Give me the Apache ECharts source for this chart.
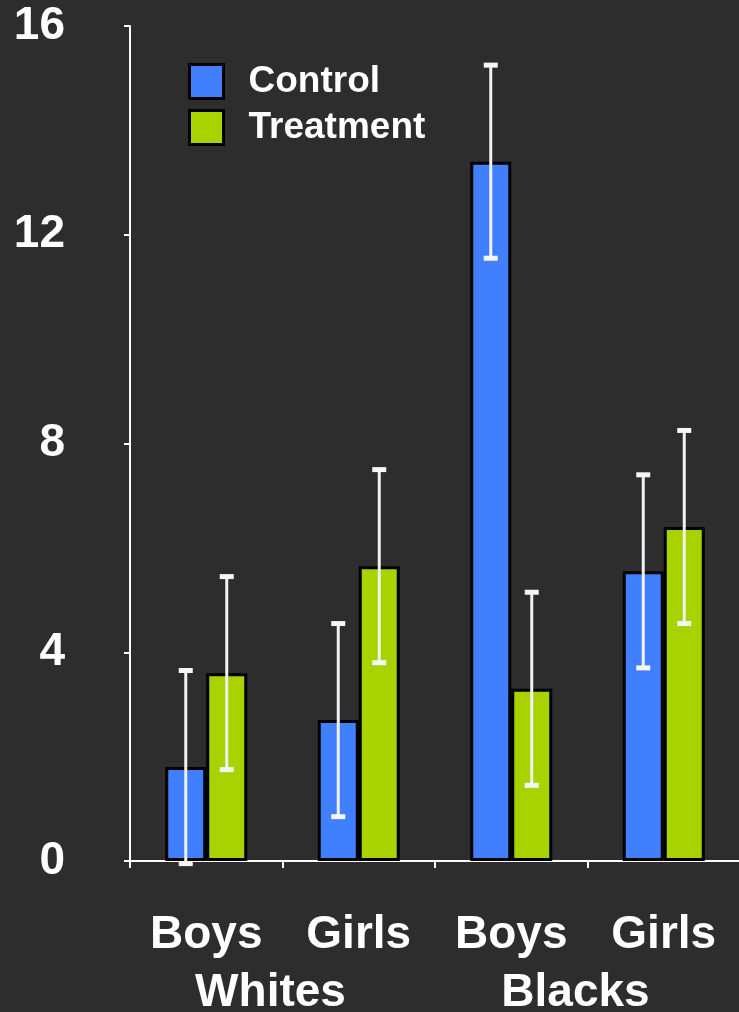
<!DOCTYPE html>
<html>
<head>
<meta charset="utf-8">
<style>
  html, body { margin: 0; padding: 0; background: #2d2d2d; }
  #chart { width: 739px; height: 1012px; }
</style>
<script src="https://cdn.jsdelivr.net/npm/echarts@6/dist/echarts.min.js"></script>
</head>
<body>
<div id="chart"></div>
<script>
// Subgroups along the x axis and the two populations they belong to
const categories = ['Boys', 'Girls', 'Boys', 'Girls'];
const groups = ['Whites', 'Blacks'];

// Bar heights per subgroup
const controlValues = [1.8, 2.7, 13.4, 5.55];
const treatmentValues = [3.6, 5.65, 3.3, 6.4];

// Half-length of each error bar
const controlErrors = [1.85, 1.85, 1.85, 1.85];
const treatmentErrors = [1.85, 1.85, 1.85, 1.85];

// Y axis ticks
const yTicks = [0, 4, 8, 12, 16];

const FONT = "'Liberation Sans', Arial, Helvetica, sans-serif";
const BAR_WIDTH = 41;
const BAR_GAP = 0;
const CTRL_COLOR = '#4080FF';
const TREAT_COLOR = '#A8D200';

function errorRows(values, errors) {
  return values.map((v, i) => [i, v - errors[i], v + errors[i]]);
}

function errorRenderer(side) {
  return function (params, api) {
    const idx = api.value(0);
    const lo = api.coord([idx, api.value(1)]);
    const hi = api.coord([idx, api.value(2)]);
    const x = lo[0] + side * (BAR_WIDTH / 2 + BAR_GAP / 2);
    const capW = 14, capH = 5;
    const style = { fill: '#f6f6f6' };
    return {
      type: 'group',
      children: [
        { type: 'line', shape: { x1: x, y1: lo[1], x2: x, y2: hi[1] },
          style: { stroke: '#f2f2f2', lineWidth: 3 } },
        { type: 'rect', shape: { x: x - capW / 2, y: hi[1] - capH / 2, width: capW, height: capH }, style },
        { type: 'rect', shape: { x: x - capW / 2, y: lo[1] - capH / 2, width: capW, height: capH }, style }
      ]
    };
  };
}

const chart = echarts.init(document.getElementById('chart'), null, { renderer: 'canvas' });

chart.setOption({
  backgroundColor: '#2d2d2d',
  animation: false,
  grid: { left: 130, right: -1, top: 26, bottom: 151, containLabel: false, outerBoundsMode: 'none' },
  legend: {
    orient: 'vertical',
    left: 188,
    top: 63,
    padding: 0,
    itemWidth: 34,
    itemHeight: 34,
    itemGap: 9,
    icon: 'rect',
    data: ['Control', 'Treatment'],
    itemStyle: { borderColor: '#000', borderWidth: 3 },
    textStyle: { color: '#fff', fontFamily: FONT, fontWeight: 'bold', fontSize: 37, padding: [0, 0, 0, 20] }
  },
  xAxis: [
    {
      type: 'category',
      data: categories,
      axisLine: { lineStyle: { color: '#fff', width: 2 } },
      axisTick: { show: true, length: 7, alignWithLabel: false, lineStyle: { color: '#fff', width: 2 } },
      axisLabel: { color: '#fff', fontFamily: FONT, fontWeight: 'bold', fontSize: 46, margin: 51 },
      splitLine: { show: false }
    },
    {
      type: 'category',
      data: groups,
      position: 'bottom',
      axisLine: { show: false },
      axisTick: { show: false },
      axisLabel: { color: '#fff', fontFamily: FONT, fontWeight: 'bold', fontSize: 46, margin: 109, padding: [0, 24, 0, 0] },
      splitLine: { show: false }
    }
  ],
  yAxis: {
    type: 'value',
    min: yTicks[0],
    max: yTicks[yTicks.length - 1],
    interval: yTicks[1] - yTicks[0],
    axisLine: { show: true, lineStyle: { color: '#fff', width: 2 } },
    axisTick: { show: true, length: 6, lineStyle: { color: '#fff', width: 2 } },
    axisLabel: { color: '#fff', fontFamily: FONT, fontWeight: 'bold', fontSize: 46, margin: 65 },
    splitLine: { show: false }
  },
  series: [
    {
      name: 'Control',
      type: 'bar',
      data: controlValues,
      barWidth: BAR_WIDTH,
      barGap: (BAR_GAP / BAR_WIDTH * 100) + '%',
      itemStyle: { color: CTRL_COLOR, borderColor: '#000', borderWidth: 3 }
    },
    {
      name: 'Treatment',
      type: 'bar',
      data: treatmentValues,
      barWidth: BAR_WIDTH,
      barGap: (BAR_GAP / BAR_WIDTH * 100) + '%',
      itemStyle: { color: TREAT_COLOR, borderColor: '#000', borderWidth: 3 }
    },
    {
      type: 'custom',
      name: 'Control error',
      z: 5,
      renderItem: errorRenderer(-1),
      data: errorRows(controlValues, controlErrors),
      encode: { x: 0, y: [1, 2] },
      silent: true
    },
    {
      type: 'custom',
      name: 'Treatment error',
      z: 5,
      renderItem: errorRenderer(1),
      data: errorRows(treatmentValues, treatmentErrors),
      encode: { x: 0, y: [1, 2] },
      silent: true
    }
  ]
});
</script>
</body>
</html>
